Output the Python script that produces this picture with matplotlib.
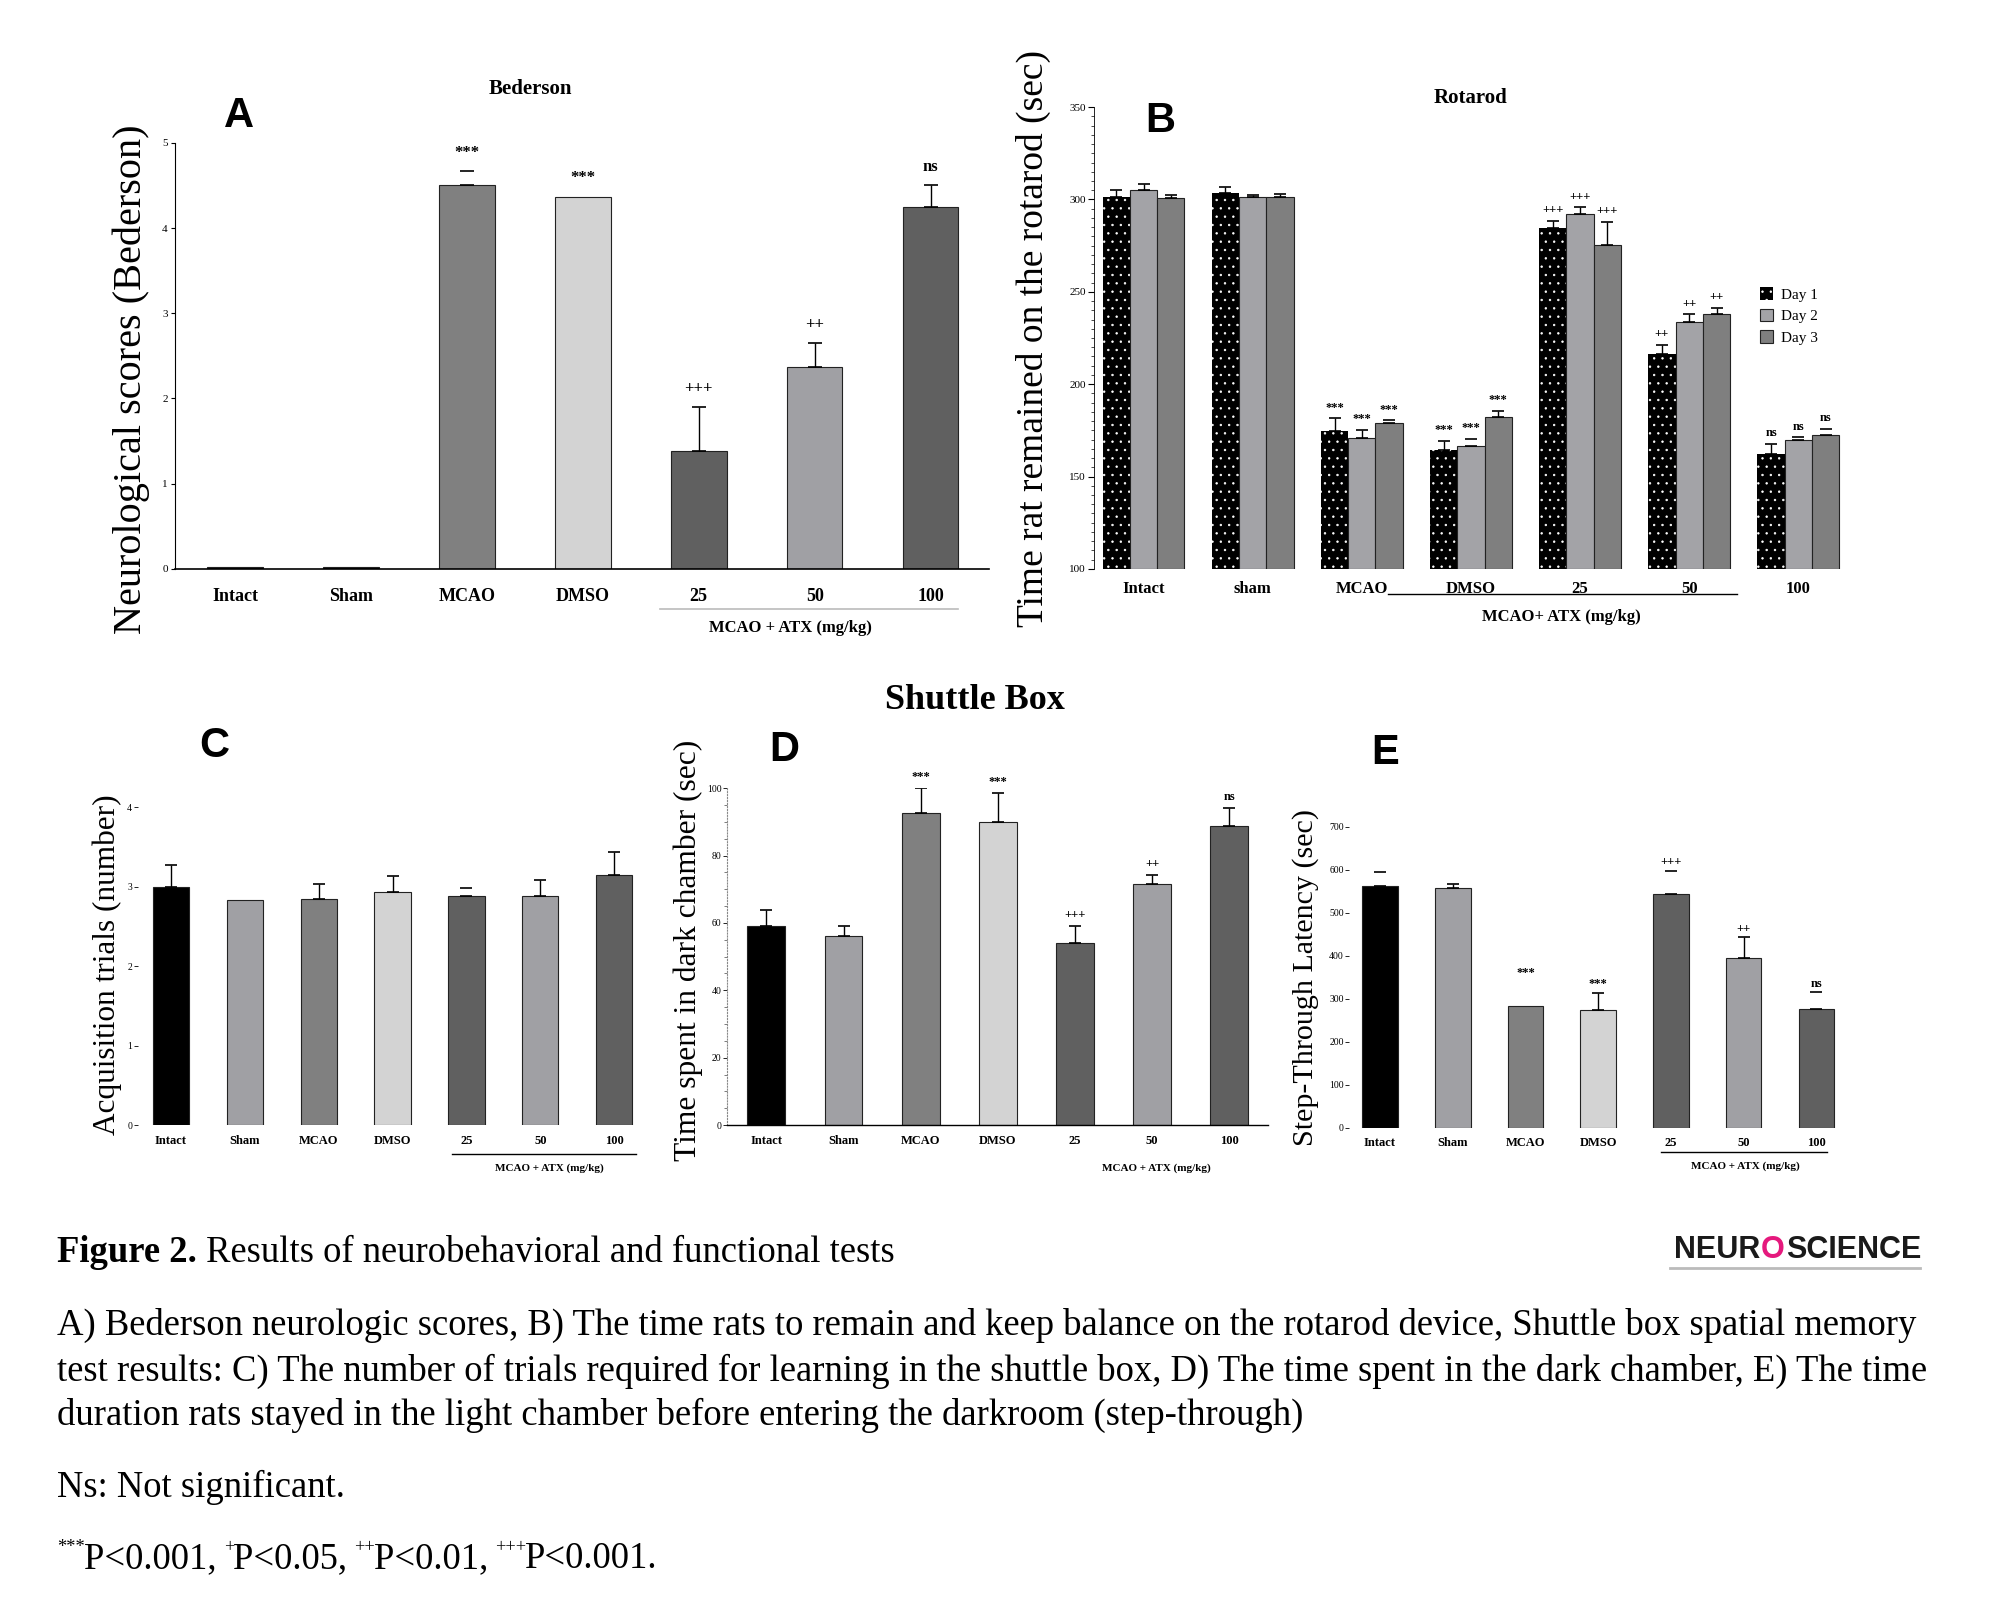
import numpy as np
import matplotlib
matplotlib.use("Agg")
import matplotlib.pyplot as plt
from matplotlib.ticker import MultipleLocator

plt.rcParams['font.family'] = ['Liberation Serif', 'DejaVu Serif']
plt.rcParams['hatch.linewidth'] = 0.5
plt.rcParams['hatch.color'] = 'white'

# ---------------- data ----------------
groups = ['Intact', 'Sham', 'MCAO', 'DMSO', '25', '50', '100']
groups_b = ['Intact', 'sham', 'MCAO', 'DMSO', '25', '50', '100']

# A: Bederson
a_mean = [0.02, 0.02, 4.5, 4.37, 1.38, 2.37, 4.25]
a_err = [0, 0, 0.17, 0, 0.52, 0.28, 0.25]
a_show = ['none', 'none', 'cap', 'none', 'full', 'full', 'full']
a_sig = ['', '', '***', '***', '+++', '++', 'ns']

# B: Rotarod, three days
days = ['Day 1', 'Day 2', 'Day 3']
b_day1 = [301.4, 303.5, 174.4, 164.1, 284.4, 216.2, 162.0]
b_day1_err = [3.6, 3.1, 7.1, 5.2, 4.2, 5.2, 5.6]
b_day2 = [305.0, 301.4, 171.0, 166.8, 292.3, 233.8, 169.7]
b_day2_err = [3.6, 0.8, 4.3, 3.5, 3.5, 4.1, 1.6]
b_day3 = [301.0, 301.4, 178.8, 182.5, 275.3, 237.9, 172.4]
b_day3_err = [1.7, 1.6, 1.7, 3.1, 12.7, 3.5, 3.6]
b_show1 = ['full'] * 7
b_show2 = ['full', 'full', 'full', 'cap', 'full', 'full', 'cap']
b_show3 = ['full', 'full', 'cap', 'full', 'full', 'full', 'cap']
b_sig = ['', '', '***', '***', '+++', '++', 'ns']

# C: acquisition trials
c_mean = [3.0, 2.84, 2.85, 2.93, 2.89, 2.89, 3.15]
c_err = [0.27, 0, 0.18, 0.2, 0.1, 0.2, 0.29]
c_show = ['full', 'none', 'full', 'full', 'cap', 'full', 'full']

# D: time in dark chamber
d_mean = [59.1, 56.0, 92.6, 89.9, 54.2, 71.7, 88.7]
d_err = [4.9, 3.1, 7.4, 8.6, 4.9, 2.4, 5.4]
d_show = ['full'] * 7
d_sig = ['', '', '***', '***', '+++', '++', 'ns']

# E: step-through latency
e_mean = [562, 556, 283, 274, 544, 395, 276]
e_err = [33, 11, 57, 39, 53, 47, 39]
e_show = ['cap', 'full', 'none', 'full', 'cap', 'full', 'cap']
e_sig = ['', '', '***', '***', '+++', '++', 'ns']

bar_colors = ['#000000', '#a0a0a4', '#808080', '#d3d3d3', '#606060', '#a0a0a4', '#606060']
day_colors = ['#000000', '#a3a3a7', '#7f7f7f']

W, H = 1568.0, 1263.0   # layout measured on the shrunk reference


def box(x0, y0, x1, y1):
    return [x0 / W, 1 - y1 / H, (x1 - x0) / W, (y1 - y0) / H]


def fx(x):
    return x / W


def fy(y):
    return 1 - y / H


def errbars(ax, xs, tops, errs, show, capsize=5):
    for x, t, e, s in zip(xs, tops, errs, show):
        if s == 'none' or e == 0:
            continue
        lw = 1.0 if s == 'full' else 0
        ax.errorbar(x, t, yerr=[[0], [e]], fmt='none', ecolor='black',
                    elinewidth=lw, capsize=capsize, capthick=1.2)


def sig_text(ax, xs, tops, errs, sig, off, size=10):
    for x, t, e, s in zip(xs, tops, errs, sig):
        if s:
            ax.text(x, t + e + off, s, ha='center', va='bottom', fontsize=size,
                    fontweight='bold', clip_on=False)


fig = plt.figure(figsize=(20, 16.11), dpi=100)

# ---------------- A ----------------
ax = fig.add_axes(box(137, 112, 775, 446))
x = np.arange(len(groups))
ax.bar(x, a_mean, width=0.48, color=bar_colors[:1] * 2 + bar_colors[2:],
       edgecolor='#222222', linewidth=0.8)
errbars(ax, x, a_mean, a_err, a_show)
sig_text(ax, x, a_mean, a_err, a_sig, 0.12, size=12)
ax.set_xlim(-0.52, 6.5)
ax.set_ylim(0, 5)
ax.set_xticks(x)
ax.set_xticklabels(groups, fontsize=13, fontweight='bold')
ax.tick_params(axis='x', length=0, pad=14)
ax.tick_params(axis='y', labelsize=8, length=3, width=0.8, pad=2)
for s in ['top', 'right']:
    ax.spines[s].set_visible(False)
ax.spines['left'].set_linewidth(0.8)
ax.spines['bottom'].set_linewidth(1.2)
ax.set_ylabel('Neurological scores (Bederson)', fontsize=29)
ax.yaxis.set_label_coords(-0.03, 0.445)
tr = ax.get_xaxis_transform()
ax.plot([3.67, 6.24], [-0.093, -0.093], color='#bbbbbb', lw=1.2, transform=tr, clip_on=False)
ax.text(4.79, -0.138, 'MCAO + ATX (mg/kg)', transform=tr, ha='center', va='center',
        fontsize=12, fontweight='bold')

# ---------------- B ----------------
ax = fig.add_axes(box(858, 84, 1445, 446))
bw = 0.25
b_vals = [b_day1, b_day2, b_day3]
b_errs = [b_day1_err, b_day2_err, b_day3_err]
b_shows = [b_show1, b_show2, b_show3]
for k in range(3):
    xs = x + (k - 1) * bw
    if k == 0:
        # black bars with white dot texture
        ax.bar(xs, np.array(b_vals[k]) - 100, bottom=100, width=bw, facecolor='black',
               edgecolor='white', hatch='..', linewidth=0, label=days[k])
    else:
        ax.bar(xs, np.array(b_vals[k]) - 100, bottom=100, width=bw, color=day_colors[k],
               edgecolor='#222222', linewidth=0.8, label=days[k])
    errbars(ax, xs, b_vals[k], b_errs[k], b_shows[k], capsize=4)
    sig_text(ax, xs, b_vals[k], b_errs[k], b_sig, 2.5, size=9)
ax.set_xlim(-0.45, 6.41)
ax.set_ylim(100, 350)
ax.set_xticks(x)
ax.set_xticklabels(groups_b, fontsize=12, fontweight='bold')
ax.tick_params(axis='x', length=0, pad=9)
ax.yaxis.set_major_locator(MultipleLocator(50))
ax.yaxis.set_minor_locator(MultipleLocator(5))
ax.tick_params(axis='y', which='major', labelsize=8, length=4, width=0.8, pad=2)
ax.tick_params(axis='y', which='minor', length=2, width=0.5)
for s in ['top', 'right', 'bottom']:
    ax.spines[s].set_visible(False)
ax.spines['left'].set_linewidth(0.6)
ax.set_ylabel('Time rat remained on the rotarod (sec)', fontsize=27)
ax.yaxis.set_label_coords(-0.058, 0.5)
tr = ax.get_xaxis_transform()
ax.plot([2.24, 5.44], [-0.055, -0.055], color='black', lw=1.0, transform=tr, clip_on=False)
ax.text(3.83, -0.105, 'MCAO+ ATX (mg/kg)', transform=tr, ha='center', va='center',
        fontsize=12, fontweight='bold')
ax.legend(loc='upper left', bbox_to_anchor=(0.87, 0.64), frameon=False, fontsize=11,
          handlelength=0.9, handleheight=0.9, labelspacing=0.45, handletextpad=0.5)


# ---------------- C, D, E ----------------
def shuttle_axes(rect, xlim, ylim, means, errs, show, ylabel, label_xy, label_size):
    ax = fig.add_axes(rect)
    ax.bar(x, means, width=0.49, color=bar_colors, edgecolor='#222222', linewidth=0.8)
    errbars(ax, x, means, errs, show, capsize=4)
    ax.set_xlim(*xlim)
    ax.set_ylim(*ylim)
    ax.set_xticks(x)
    ax.set_xticklabels(groups, fontsize=9, fontweight='bold')
    ax.tick_params(axis='x', length=0, pad=7)
    ax.tick_params(axis='y', labelsize=7, length=3, width=0.6, pad=1)
    for s in ['top', 'right']:
        ax.spines[s].set_visible(False)
    ax.set_ylabel(ylabel, fontsize=label_size)
    ax.yaxis.set_label_coords(*label_xy)
    return ax


ax = shuttle_axes(box(108, 633, 500, 882), (-0.45, 6.32), (0, 4), c_mean, c_err, c_show,
                  'Acquisition trials (number)', (-0.031, 0.505), 22.5)
ax.set_yticks([0, 1, 2, 3, 4])
ax.spines['left'].set_visible(False)
ax.spines['bottom'].set_visible(False)
tr = ax.get_xaxis_transform()
ax.plot([3.81, 6.3], [-0.09, -0.09], color='black', lw=1.0, transform=tr, clip_on=False)
ax.text(5.12, -0.135, 'MCAO + ATX (mg/kg)', transform=tr, ha='center', va='center',
        fontsize=8, fontweight='bold')

ax = shuttle_axes(box(570, 618, 994, 882), (-0.51, 6.5), (0, 100), d_mean, d_err, d_show,
                  'Time spent in dark chamber (sec)', (-0.045, 0.52), 22.7)
sig_text(ax, x, d_mean, d_err, d_sig, 1.5, size=9)
ax.yaxis.set_major_locator(MultipleLocator(20))
ax.yaxis.set_minor_locator(MultipleLocator(5))
ax.tick_params(axis='y', which='minor', length=2, width=0.6, color='#666666')
ax.spines['left'].set_linestyle(':')
ax.spines['left'].set_color('#888888')
ax.spines['bottom'].set_linewidth(1.0)
tr = ax.get_xaxis_transform()
ax.text(5.05, -0.127, 'MCAO + ATX (mg/kg)', transform=tr, ha='center', va='center',
        fontsize=8, fontweight='bold')

ax = shuttle_axes(box(1058, 648, 1440, 884), (-0.42, 6.28), (0, 700), e_mean, e_err, e_show,
                  'Step-Through Latency (sec)', (-0.063, 0.5), 21.6)
sig_text(ax, x, e_mean, e_err, e_sig, 6, size=9)
ax.yaxis.set_major_locator(MultipleLocator(100))
ax.spines['left'].set_visible(False)
ax.spines['bottom'].set_visible(False)
tr = ax.get_xaxis_transform()
ax.plot([3.86, 6.14], [-0.08, -0.08], color='black', lw=1.0, transform=tr, clip_on=False)
ax.text(5.02, -0.127, 'MCAO + ATX (mg/kg)', transform=tr, ha='center', va='center',
        fontsize=8, fontweight='bold')

# ---------------- panel letters and titles ----------------
for lab, (px, py) in zip('ABCDE', [(187, 91), (910, 95), (168, 585), (615, 588), (1086, 590)]):
    fig.text(fx(px), fy(py), lab, fontsize=30, fontweight='bold', family='Liberation Sans',
             ha='center', va='center')
fig.text(fx(416), fy(70), 'Bederson', fontsize=15, fontweight='bold', ha='center', va='center')
fig.text(fx(1153), fy(77), 'Rotarod', fontsize=15, fontweight='bold', ha='center', va='center')
fig.text(fx(764), fy(549), 'Shuttle Box', fontsize=26, fontweight='bold', ha='center', va='center')

# ---------------- caption ----------------
cap_size = 26.4
t = fig.text(fx(45), fy(982), 'Figure 2.', fontsize=cap_size, fontweight='bold', va='center')
fig.canvas.draw()
r = fig.canvas.get_renderer()
bb = t.get_window_extent(r)
fig.text(bb.x1 / fig.bbox.width, fy(982), ' Results of neurobehavioral and functional tests',
         fontsize=cap_size, va='center')

lines = ['A) Bederson neurologic scores, B) The time rats to remain and keep balance on the rotarod device, Shuttle box spatial memory',
         'test results: C) The number of trials required for learning in the shuttle box, D) The time spent in the dark chamber, E) The time',
         'duration rats stayed in the light chamber before entering the darkroom (step-through)']
for ln, yy in zip(lines, [1039, 1075, 1110]):
    fig.text(fx(45), fy(yy), ln, fontsize=cap_size, va='center')
fig.text(fx(45), fy(1166), 'Ns: Not significant.', fontsize=cap_size, va='center')

# last line with superscripts
pieces = [('***', True), ('P<0.001, ', False), ('+', True), ('P<0.05, ', False),
          ('++', True), ('P<0.01, ', False), ('+++', True), ('P<0.001.', False)]
xpos = fx(45) * fig.bbox.width
for s, sup in pieces:
    tt = fig.text(xpos / fig.bbox.width, fy(1222) + (0.007 if sup else 0), s,
                  fontsize=cap_size * (0.5 if sup else 1), va='center')
    xpos = tt.get_window_extent(r).x1 - 1.5

# logo
fig.text(fx(1380), fy(980), 'NEUR', fontsize=22, fontweight='bold', family='Liberation Sans',
         ha='right', va='center', color='#1a1a1a')
fig.text(fx(1390), fy(980), 'O', fontsize=22, fontweight='bold', family='Liberation Sans',
         ha='center', va='center', color='#e5197d')
fig.text(fx(1400), fy(980), 'SCIENCE', fontsize=22, fontweight='bold', family='Liberation Sans',
         ha='left', va='center', color='#1a1a1a')
fig.add_artist(plt.Line2D([fx(1309), fx(1505)], [fy(994), fy(994)], color='#bbbbbb', lw=2))

fig.savefig('out.png', dpi=100)
